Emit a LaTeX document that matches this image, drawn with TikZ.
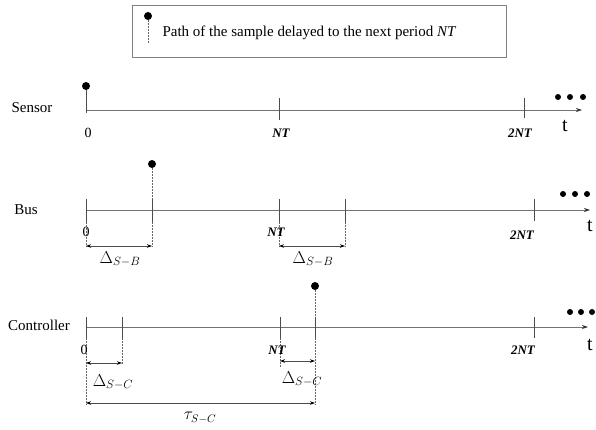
\documentclass[tikz,border=0pt]{standalone}
\usepackage{fontspec}
\setmainfont{Liberation Serif}
\usetikzlibrary{arrows.meta}
\begin{document}
\begin{tikzpicture}[x=1pt,y=-1pt,
  axis/.style={draw=black!55, line width=0.9pt, -{Stealth[length=6pt,width=4pt,black!80]}},
  tickline/.style={draw=black!70, line width=0.7pt},
  guide/.style={draw=black!60, line width=0.6pt, dash pattern=on 1.5pt off 1.5pt},
  dimarrow/.style={draw=black!70, line width=0.7pt, {Stealth[length=5pt,width=3.5pt,black]}-{Stealth[length=5pt,width=3.5pt,black]}},
  sample/.style={circle, fill=black, inner sep=0pt, minimum size=8pt},
  more/.style={circle, fill=black, inner sep=0pt, minimum size=6pt},
  lane/.style={font=\fontsize{15}{18}\selectfont},
  ticklab/.style={font=\fontsize{13}{15}\selectfont\bfseries\itshape},
  zerolab/.style={font=\fontsize{14}{16}\selectfont},
  tlab/.style={font=\fontsize{20}{22}\selectfont},
  dlab/.style={font=\fontsize{17}{20}\selectfont},
  taulab/.style={font=\fontsize{16}{19}\selectfont}
]
\useasboundingbox (0,0) rectangle (596,430);

% legend
\node[draw=black!50, line width=0.8pt, minimum width=374pt, minimum height=52pt] (legend) at (319,31) {};
\node[sample] (ldot) at (148,16) {};
\coordinate (lend) at (148,43);
\draw[guide] (ldot) -- (lend);
\node[lane, anchor=west] (ltext) at (159,33) {Path of the sample delayed to the next period \textit{NT}};

% Sensor
\node[lane] (sensor) at (32,108) {Sensor};
\coordinate (s0) at (86,110);
\coordinate (send) at (582,110);
\draw[axis] (s0) -- (send);
\node[sample] (sdot) at (86,86) {};
\coordinate (s0b) at (86,113);
\draw[tickline] (sdot) -- (s0b);
\coordinate (s1a) at (279,98); \coordinate (s1b) at (279,120);
\draw[tickline] (s1a) -- (s1b);
\coordinate (s2a) at (524,98); \coordinate (s2b) at (524,118);
\draw[tickline] (s2a) -- (s2b);
\node[zerolab] (sl0) at (88,133) {0};
\node[ticklab] (sl1) at (281,133) {NT};
\node[ticklab] (sl2) at (520,133) {2NT};
\node[tlab] (st) at (565,126) {t};
\node[more] (sm1) at (558,97) {};
\node[more] (sm2) at (570,97) {};
\node[more] (sm3) at (583,97) {};

% Bus
\node[lane] (bus) at (26,210) {Bus};
\coordinate (b0) at (86,210);
\coordinate (bend) at (590,210);
\draw[axis] (b0) -- (bend);
\coordinate (b0a) at (86,199); \coordinate (b0b) at (86,222); \coordinate (b0c) at (86,247);
\draw[tickline] (b0a) -- (b0b);
\draw[guide] (b0b) -- (b0c);
\node[sample] (bdot) at (152,164) {};
\coordinate (bxa) at (152,199); \coordinate (bxb) at (152,222); \coordinate (bxc) at (152,247);
\draw[guide] (bdot) -- (bxc);
\draw[tickline] (bxa) -- (bxb);
\coordinate (b1a) at (279,199); \coordinate (b1b) at (279,222); \coordinate (b1c) at (279,247);
\draw[tickline] (b1a) -- (b1b);
\draw[guide] (b1b) -- (b1c);
\coordinate (bya) at (345,199); \coordinate (byb) at (345,222); \coordinate (byc) at (345,247);
\draw[tickline] (bya) -- (byb);
\draw[guide] (byb) -- (byc);
\coordinate (b2a) at (534,199); \coordinate (b2b) at (534,221);
\draw[tickline] (b2a) -- (b2b);
\coordinate (bd1l) at (86,246); \coordinate (bd1r) at (152,246);
\draw[dimarrow] (bd1l) -- (bd1r);
\coordinate (bd2l) at (279,246); \coordinate (bd2r) at (345,246);
\draw[dimarrow] (bd2l) -- (bd2r);
\node[dlab] (bdl1) at (120,259) {$\Delta_{S-B}$};
\node[dlab] (bdl2) at (313,259) {$\Delta_{S-B}$};
\node[zerolab] (bl0) at (86,232) {0};
\node[ticklab] (bl1) at (276,232) {NT};
\node[ticklab] (bl2) at (522,235) {2NT};
\node[tlab] (bt) at (590,226) {t};
\node[more] (bm1) at (563,194) {};
\node[more] (bm2) at (575,194) {};
\node[more] (bm3) at (587,194) {};

% Controller
\node[lane] (ctrl) at (39,325) {Controller};
\coordinate (c0) at (86,327);
\coordinate (cend) at (588,327);
\draw[axis] (c0) -- (cend);
\coordinate (c0a) at (86,317); \coordinate (c0b) at (86,338); \coordinate (c0c) at (86,405);
\draw[tickline] (c0a) -- (c0b);
\draw[guide] (c0b) -- (c0c);
\coordinate (cxa) at (122,317); \coordinate (cxb) at (122,338); \coordinate (cxc) at (122,364);
\draw[tickline] (cxa) -- (cxb);
\draw[guide] (cxb) -- (cxc);
\coordinate (c1a) at (280,317); \coordinate (c1b) at (280,338); \coordinate (c1c) at (280,368);
\draw[tickline] (c1a) -- (c1b);
\draw[guide] (c1b) -- (c1c);
\node[sample] (cdot) at (315,286) {};
\coordinate (cya) at (315,317); \coordinate (cyb) at (315,338); \coordinate (cyc) at (315,405);
\draw[guide] (cdot) -- (cyc);
\draw[tickline] (cya) -- (cyb);
\coordinate (c2a) at (534,317); \coordinate (c2b) at (534,338);
\draw[tickline] (c2a) -- (c2b);
\coordinate (cd1l) at (86,363); \coordinate (cd1r) at (122,363);
\draw[dimarrow] (cd1l) -- (cd1r);
\coordinate (cd2l) at (280,361); \coordinate (cd2r) at (315,361);
\draw[dimarrow] (cd2l) -- (cd2r);
\coordinate (ctl) at (86,403); \coordinate (ctr) at (315,403);
\draw[dimarrow] (ctl) -- (ctr);
\node[dlab] (cdl1) at (113,382) {$\Delta_{S-C}$};
\node[dlab] (cdl2) at (302,379) {$\Delta_{S-C}$};
\node[taulab] (ctau) at (200,418) {$\tau_{S-C}$};
\node[zerolab] (cl0) at (84,350) {0};
\node[ticklab] (cl1) at (277,350) {NT};
\node[ticklab] (cl2) at (523,350) {2NT};
\node[tlab] (ct) at (590,345) {t};
\node[more] (cm1) at (570,312) {};
\node[more] (cm2) at (581,312) {};
\node[more] (cm3) at (592,312) {};
\end{tikzpicture}
\end{document}
